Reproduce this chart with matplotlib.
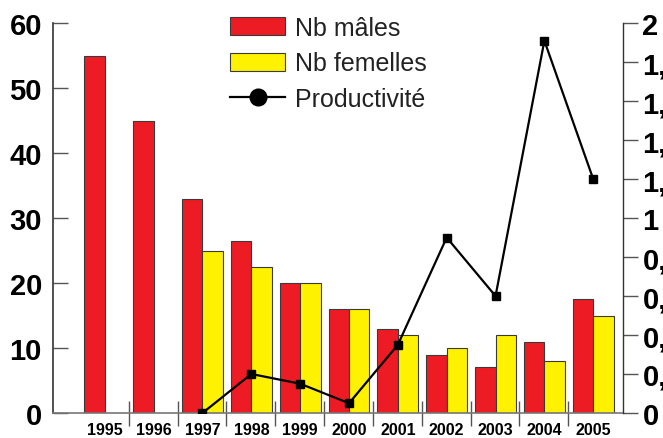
import numpy as np
import matplotlib.pyplot as plt
from matplotlib.patches import Patch
from matplotlib.lines import Line2D

# data
years = ['1995', '1996', '1997', '1998', '1999', '2000', '2001', '2002', '2003', '2004', '2005']
males = [55, 45, 33, 26.5, 20, 16, 13, 9, 7, 11, 17.5]
females = [np.nan, np.nan, 25, 22.5, 20, 16, 12, 10, 12, 8, 15]
prod_years = ['1997', '1998', '1999', '2000', '2001', '2002', '2003', '2004', '2005']
productivity = [0.0, 0.2, 0.15, 0.05, 0.35, 0.9, 0.6, 1.91, 1.2]

left_ticks = [0, 10, 20, 30, 40, 50, 60]
right_ticks = [0, 0.2, 0.4, 0.6, 0.8, 1, 1.2, 1.4, 1.6, 1.8, 2]
right_labels = ['0', '0,2', '0,4', '0,6', '0,8', '1', '1,2', '1,4', '1,6', '1,8', '2']

RED = '#ED1C24'
YELLOW = '#FFF200'
EDGE = '#3a3a3a'
FONT = 'Liberation Sans'

plt.rcParams['font.family'] = [FONT, 'DejaVu Sans']

fig = plt.figure(figsize=(6.63, 4.39), dpi=100)
ax = fig.add_axes([0.080, 0.057, 0.8597, 0.888])

x = np.arange(len(years))
w = 0.418
ax.bar(x - w / 2, males, w, color=RED, edgecolor=EDGE, linewidth=0.8, zorder=2)
ax.bar(x + w / 2, females, w, color=YELLOW, edgecolor=EDGE, linewidth=0.8, zorder=2)

ax.set_xlim(-1.06, 10.61)
ax.set_ylim(0, 60)
ax.set_yticks(left_ticks)
ax.set_yticklabels([str(t) for t in left_ticks], fontsize=21, fontweight='bold')
ax.tick_params(axis='y', direction='in', length=11, width=1.0, color='#555555', pad=8)

ax.set_xticks(x)
ax.set_xticklabels(years, fontsize=11.5, fontweight='bold')
ax.tick_params(axis='x', which='major', length=0, pad=6.5)
ax.set_xticks(x[:-1] + 0.49, minor=True)
ax.tick_params(axis='x', which='minor', direction='inout', length=18, width=1.0, color='#555555')

for s in ['top', 'right']:
    ax.spines[s].set_visible(False)
ax.spines['left'].set_color('#333333')
ax.spines['left'].set_linewidth(1.2)
ax.spines['bottom'].set_color('#777777')
ax.spines['bottom'].set_linewidth(1.2)

ax2 = ax.twinx()
ax2.set_ylim(0, 2)
px = [years.index(y) for y in prod_years]
ax2.plot(px, productivity, color='black', linewidth=1.6, marker='s', markersize=6, zorder=3)
ax2.set_yticks(right_ticks)
ax2.set_yticklabels(right_labels, fontsize=21, fontweight='bold')
ax2.tick_params(axis='y', direction='out', length=11, width=1.0, color='#555555', pad=3)
for s in ['top', 'left', 'bottom']:
    ax2.spines[s].set_visible(False)
ax2.spines['right'].set_color('#333333')
ax2.spines['right'].set_linewidth(1.0)

handles = [Patch(facecolor=RED, edgecolor=EDGE, linewidth=0.8),
           Patch(facecolor=YELLOW, edgecolor=EDGE, linewidth=0.8),
           Line2D([], [], color='black', linewidth=1.6, marker='o', markersize=12)]
leg = ax2.legend(handles, ['Nb mâles', 'Nb femelles', 'Productivité'],
                 loc='upper left', bbox_to_anchor=(0.293, 1.045), frameon=False,
                 fontsize=18, handlelength=2.2, handleheight=0.72,
                 handletextpad=0.4, labelspacing=0.47, borderaxespad=0)
for t in leg.get_texts():
    t.set_color('#222222')

fig.savefig('out.png', dpi=100)
